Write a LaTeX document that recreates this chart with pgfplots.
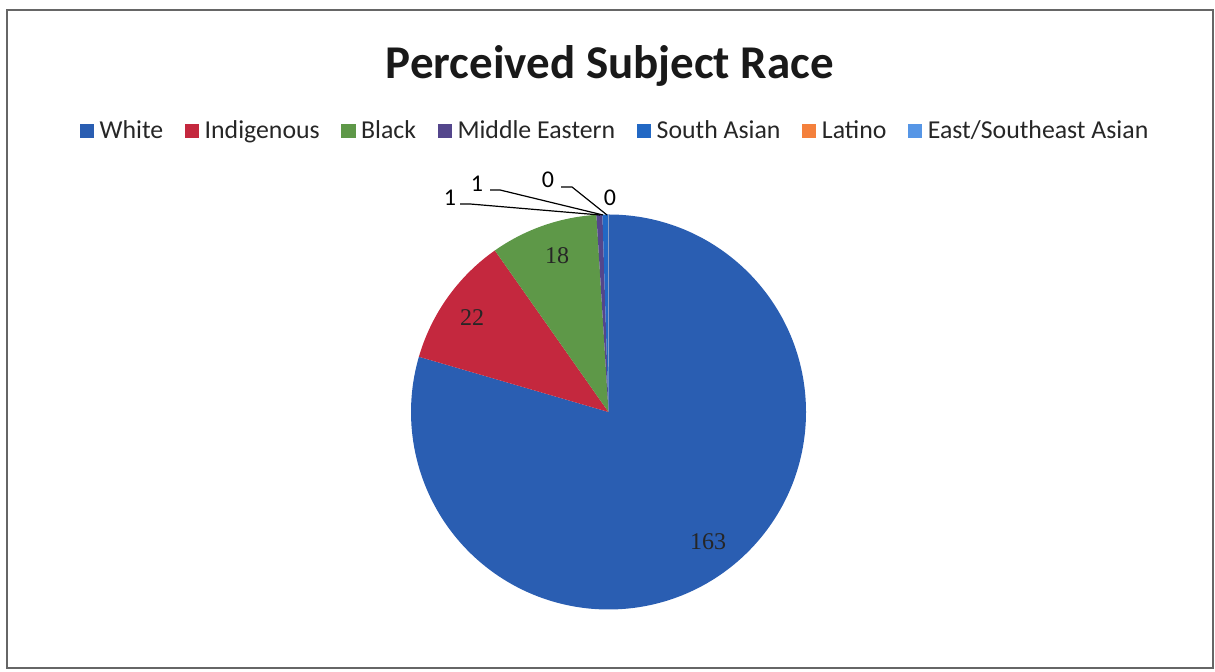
\documentclass[border=0pt]{standalone}
\usepackage{fontspec}
\setmainfont{Carlito}
\newfontfamily\serif{Liberation Serif}
\usepackage{pgfplots}
\usepackage{pgfplotstable}
\pgfplotsset{compat=1.18}

\definecolor{cWhite}{RGB}{42,94,178}
\definecolor{cInd}{RGB}{196,40,62}
\definecolor{cBlack}{RGB}{94,152,72}
\definecolor{cME}{RGB}{84,70,140}
\definecolor{cSA}{RGB}{34,104,196}
\definecolor{cLat}{RGB}{244,128,60}
\definecolor{cESA}{RGB}{86,150,230}

% counts per perceived race
\pgfplotstableread[col sep=comma]{
race,count
White,163
Indigenous,22
Black,18
Middle Eastern,1
South Asian,1
Latino,0
East/Southeast Asian,0
}\racedata

\newcommand\getcount[2]{\pgfplotstablegetelem{#1}{count}\of\racedata\let#2\pgfplotsretval}
% slice: colour, start angle, end angle (clockwise)
\newcommand\slice[3]{\fill[#1] (axis cs:608.5,260) -- ++(#2:98.75pt)
  arc[start angle=#2, end angle=#3, radius=98.75pt] -- cycle;}

\begin{document}
\begin{tikzpicture}
\getcount{0}\nA \getcount{1}\nB \getcount{2}\nC \getcount{3}\nD
\getcount{4}\nE \getcount{5}\nF \getcount{6}\nG
\pgfmathsetmacro\tot{\nA+\nB+\nC+\nD+\nE+\nF+\nG}
\pgfmathsetmacro\aO{90}
\pgfmathsetmacro\aA{\aO-\nA/\tot*360}
\pgfmathsetmacro\aB{\aA-\nB/\tot*360}
\pgfmathsetmacro\aC{\aB-\nC/\tot*360}
\pgfmathsetmacro\aD{\aC-\nD/\tot*360}
\pgfmathsetmacro\aE{\aD-\nE/\tot*360}
\pgfmathsetmacro\aF{\aE-\nF/\tot*360}
\pgfmathsetmacro\aG{\aF-\nG/\tot*360}
\begin{axis}[
    scale only axis,
    width=607.5pt, height=336pt,
    xmin=0, xmax=1215, ymin=0, ymax=672,
    hide axis, clip=false,
    legend columns=7,
    legend image code/.code={\fill[#1, draw=none] (0pt,-3.6pt) rectangle (7.2pt,3.6pt);},
    legend style={at={(axis cs:616,541)}, anchor=center, draw=none, fill=none,
        font=\fontsize{12.9}{15}\selectfont, text=black!85,
        inner sep=0pt,
        /tikz/every odd column/.append style={column sep=0.8pt},
        /tikz/every even column/.append style={column sep=8.7pt}},
]
\path (axis cs:0,0) rectangle (axis cs:1215,672);
\draw[black!60, line width=0.8pt] (axis cs:7,4) rectangle (axis cs:1213,662);

\slice{cWhite}{\aO}{\aA}
\slice{cInd}{\aA}{\aB}
\slice{cBlack}{\aB}{\aC}
\slice{cME}{\aC}{\aD}
\slice{cSA}{\aD}{\aE}
\slice{cLat}{\aE}{\aF}
\slice{cESA}{\aF}{\aG}

\node[font=\fontsize{23.5}{28}\selectfont\bfseries, text=black!90] at (axis cs:610,606) {Perceived Subject Race};

\node[font=\serif\fontsize{12}{14}\selectfont, text=black!85] at (axis cs:708,130) {163};
\node[font=\serif\fontsize{12}{14}\selectfont, text=black!85] at (axis cs:472,354) {22};
\node[font=\serif\fontsize{12}{14}\selectfont, text=black!85] at (axis cs:557,416) {18};

\node[font=\fontsize{12}{14}\selectfont] at (axis cs:450,474) {1};
\node[font=\fontsize{12}{14}\selectfont] at (axis cs:477,488) {1};
\node[font=\fontsize{12}{14}\selectfont] at (axis cs:548,492) {0};
\node[font=\fontsize{12}{14}\selectfont] at (axis cs:610,474) {0};
\draw[black, line width=0.6pt] (axis cs:460,468) -- (axis cs:470,468) -- (axis cs:600,457);
\draw[black, line width=0.6pt] (axis cs:490,482) -- (axis cs:500,482) -- (axis cs:603,457);
\draw[black, line width=0.6pt] (axis cs:561,485) -- (axis cs:572,485) -- (axis cs:607,457);

\addlegendimage{fill=cWhite}\addlegendentry{White}
\addlegendimage{fill=cInd}\addlegendentry{Indigenous}
\addlegendimage{fill=cBlack}\addlegendentry{Black}
\addlegendimage{fill=cME}\addlegendentry{Middle Eastern}
\addlegendimage{fill=cSA}\addlegendentry{South Asian}
\addlegendimage{fill=cLat}\addlegendentry{Latino}
\addlegendimage{fill=cESA}\addlegendentry{East/Southeast Asian}
\end{axis}
\end{tikzpicture}
\end{document}
